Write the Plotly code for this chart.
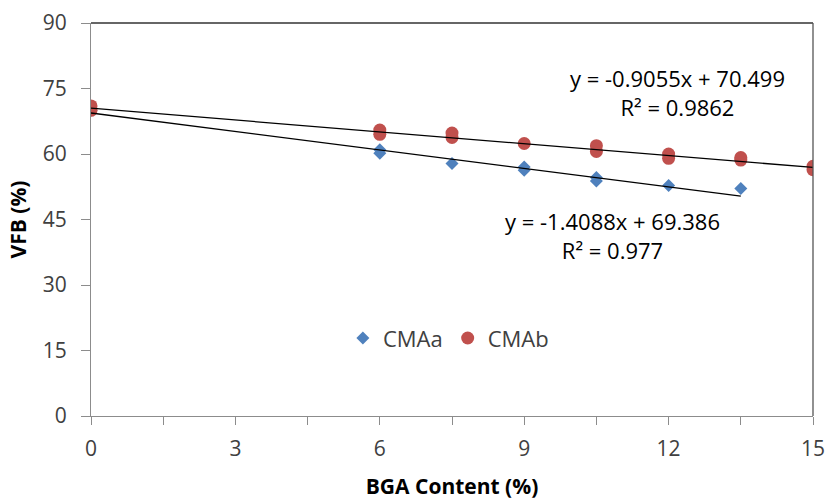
import plotly.graph_objects as go
import numpy as np

# ---- data ----
cma_a_x = [0, 6, 6, 7.5, 9, 9, 10.5, 10.5, 12, 13.5]
cma_a_y = [70.0, 60.2, 61.0, 57.8, 56.3, 57.0, 53.8, 54.6, 52.8, 52.1]
cma_b_x = [0, 0, 6, 6, 7.5, 7.5, 9, 10.5, 10.5, 12, 12, 13.5, 13.5, 15, 15]
cma_b_y = [70.0, 71.0, 64.5, 65.5, 63.8, 64.8, 62.4, 60.6, 61.9, 59.0, 60.0, 58.6, 59.2, 56.4, 57.2]

# trendline coefficients printed on the chart
trend_a = {"slope": -1.4088, "intercept": 69.386, "r2": "0.977"}
trend_b = {"slope": -0.9055, "intercept": 70.499, "r2": "0.9862"}

x_ticks = [0, 3, 6, 9, 12, 15]
y_ticks = [0, 15, 30, 45, 60, 75, 90]

BLUE = "#4F81BD"
RED = "#C0504D"
FONT = "Open Sans"
TXT = "#404040"

fig = go.Figure()

fig.add_trace(go.Scatter(x=cma_a_x, y=cma_a_y, mode="markers", name="CMAa",
                         marker=dict(symbol="diamond", size=10, color=BLUE)))
fig.add_trace(go.Scatter(x=cma_b_x, y=cma_b_y, mode="markers", name="CMAb",
                         marker=dict(symbol="circle", size=13, color=RED)))

for xs, tr in ((cma_a_x, trend_a), (cma_b_x, trend_b)):
    tx = np.array([min(xs), max(xs)], dtype=float)
    ty = tr["slope"] * tx + tr["intercept"]
    fig.add_trace(go.Scatter(x=tx, y=ty, mode="lines", showlegend=False,
                             line=dict(color="black", width=1.3), hoverinfo="skip"))

def eq_text(tr):
    return f"y = {tr['slope']:.4f}x + {tr['intercept']:.3f}<br>R² = {tr['r2']}"

fig.add_annotation(x=12.19, y=74.0, text=eq_text(trend_b), showarrow=False,
                   font=dict(family=FONT, size=22, color="black"), align="center")
fig.add_annotation(x=10.83, y=41.3, text=eq_text(trend_a), showarrow=False,
                   font=dict(family=FONT, size=22, color="black"), align="center")

# top and right plot-area border
fig.add_shape(type="line", xref="paper", yref="paper", x0=0, x1=1, y0=1, y1=1,
              line=dict(color="#333333", width=1.3))
fig.add_shape(type="line", xref="paper", yref="paper", x0=1, x1=1, y0=0, y1=1,
              line=dict(color="#555555", width=1.3))

fig.update_layout(
    width=825, height=500,
    margin=dict(l=91, r=12, t=23, b=84),
    paper_bgcolor="white", plot_bgcolor="white",
    font=dict(family=FONT, size=21, color=TXT),
    legend=dict(orientation="h", x=0.495, y=0.198, xanchor="center", yanchor="middle",
                font=dict(family=FONT, size=22, color=TXT), bgcolor="rgba(0,0,0,0)"),
    xaxis=dict(range=[0, 15], tickvals=x_ticks, showgrid=False, zeroline=False,
               automargin=False, ticklabeloverflow="allow",
               showline=True, linecolor="#8C8C8C", linewidth=1.3,
               ticks="outside", ticklen=8, tickcolor="#8C8C8C", tickwidth=1.3,
               minor=dict(dtick=1.5, ticks="outside", ticklen=8, tickcolor="#8C8C8C", tickwidth=1.3, showgrid=False),
               ticklabelstandoff=6,
               title=dict(text="<b>BGA Content (%)</b>", font=dict(family=FONT, size=21, color="black"), standoff=20)),
    yaxis=dict(range=[0, 90], tickvals=y_ticks, showgrid=False, zeroline=False,
               automargin=False, ticklabeloverflow="allow",
               showline=True, linecolor="#8C8C8C", linewidth=1.3,
               ticks="outside", ticklen=9, tickcolor="#8C8C8C", tickwidth=1.3,
               ticklabelstandoff=10,
               title=dict(text="<b>VFB (%)</b>", font=dict(family=FONT, size=21, color="black"), standoff=10)),
)

fig.write_html("out.html")
